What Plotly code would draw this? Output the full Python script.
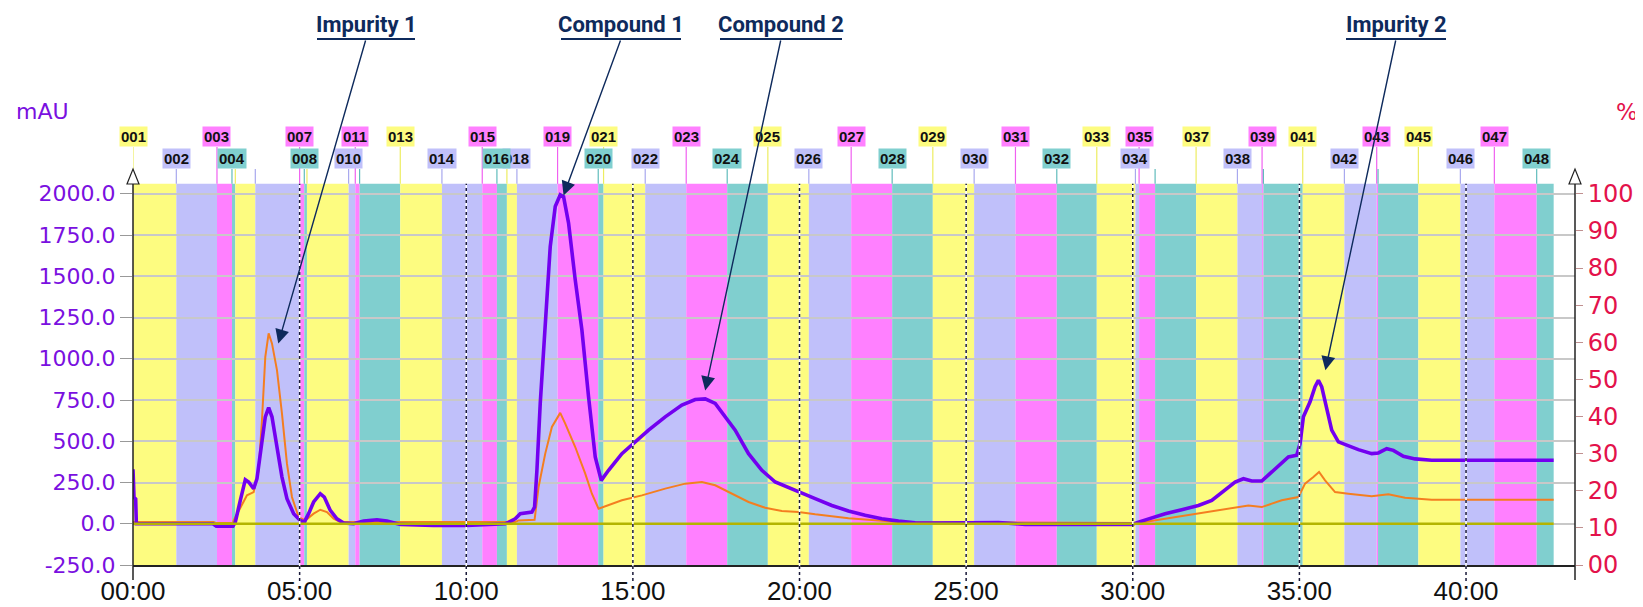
import plotly.graph_objects as go

# ---------------- data ----------------
purple_t = [0.00, 0.03, 0.08, 0.10, 2.40, 2.50, 3.00, 3.07, 3.22, 3.37, 3.47, 3.62, 3.72, 3.82, 3.97, 4.07,
            4.17, 4.32, 4.47, 4.62, 4.82, 5.02, 5.14, 5.27, 5.42, 5.62, 5.74, 5.92, 6.12, 6.32, 6.62, 6.92,
            7.32, 7.62, 8.02, 9.02, 10.02, 11.17, 11.47, 11.62, 11.97, 12.05, 12.12, 12.22, 12.37, 12.52,
            12.67, 12.82, 12.92, 13.07, 13.27, 13.47, 13.67, 13.87, 14.05, 14.27, 14.67, 15.07, 15.47, 15.97,
            16.47, 16.87, 17.17, 17.47, 17.77, 18.07, 18.47, 18.87, 19.27, 19.97, 20.47, 20.97, 21.47, 21.97,
            22.47, 22.97, 23.47, 23.97, 24.47, 25.97, 26.77, 29.97, 30.17, 30.47, 30.97, 31.47, 31.97, 32.37,
            32.77, 33.07, 33.32, 33.57, 33.87, 34.17, 34.47, 34.67, 34.92, 35.02, 35.12, 35.32, 35.47, 35.57,
            35.67, 35.82, 35.97, 36.17, 36.47, 36.77, 37.17, 37.37, 37.62, 37.82, 38.12, 38.47, 38.97, 42.63]
purple_v = [330, 160, 150, 0, 0, -15, -15, 10, 142, 267, 253, 212, 273, 425, 648, 704,
            648, 465, 283, 152, 61, 20, 10, 61, 132, 182, 162, 81, 30, 4, 0, 16,
            24, 16, -4, -10, -10, 0, 30, 61, 71, 101, 324, 729, 1235, 1680,
            1923, 1994, 1983, 1822, 1478, 1174, 769, 405, 263, 324, 425, 496, 567, 648,
            719, 753, 757, 729, 648, 567, 425, 324, 253, 192, 152, 111, 77, 51,
            30, 16, 6, 4, 4, 8, -4, -4, 10, 30, 61, 85, 111, 142,
            202, 253, 273, 259, 259, 314, 374, 405, 415, 486, 648, 739, 830, 870,
            830, 688, 567, 496, 470, 449, 425, 429, 455, 445, 409, 393, 385, 385]

orange_t = [0.00, 2.42, 2.50, 3.00, 3.02, 3.22, 3.42, 3.62, 3.77, 3.87, 3.97, 4.07, 4.17, 4.32, 4.47, 4.62,
            4.77, 4.97, 5.17, 5.42, 5.62, 5.82, 6.02, 6.22, 11.47, 11.57, 12.05, 12.17, 12.37, 12.57, 12.82,
            12.97, 13.27, 13.57, 13.77, 13.97, 14.17, 14.67, 15.27, 15.97, 16.57, 17.07, 17.47, 17.97, 18.47,
            18.97, 19.47, 19.97, 20.47, 21.47, 22.47, 22.97, 30.17, 30.97, 31.97, 32.97, 33.47, 33.87, 34.47,
            34.97, 35.17, 35.42, 35.59, 35.77, 36.07, 36.47, 37.17, 37.67, 38.17, 38.97, 42.63]
orange_v = [10, 10, 4, 4, 20, 101, 172, 192, 324, 627, 1012, 1154, 1093, 931, 668, 364,
            162, 40, 20, 61, 85, 71, 30, 10, 10, 20, 24, 223, 425, 587, 672,
            607, 465, 304, 182, 91, 105, 142, 172, 213, 243, 253, 233, 182, 132,
            97, 77, 71, 57, 34, 16, 10, 4, 30, 61, 97, 111, 101, 142,
            162, 243, 283, 314, 263, 192, 182, 166, 178, 158, 146, 146]

olive_t = [0.00, 42.63]
olive_pct = [11.1, 11.1]

# fractions: start time (min); last value is end of final fraction
frac_names = ["%03d" % i for i in range(1, 49)]
frac_start = [0.00, 1.30, 2.52, 2.97, 3.07, 3.67, 5.00, 5.14, 5.22, 6.47, 6.67, 6.80,
              8.02, 9.27, 10.48, 10.92, 11.22, 11.52, 12.74, 13.96, 14.12, 15.37, 16.60, 17.83,
              19.05, 20.28, 21.55, 22.78, 24.00, 25.24, 26.48, 27.72, 28.92, 30.08, 30.19, 30.67,
              31.90, 33.14, 33.88, 33.92, 35.10, 36.35, 37.32, 37.36, 38.57, 39.83, 40.85, 42.12]
frac_end = 42.63
shown_top = ["001", "003", "007", "011", "013", "015", "019", "021", "023", "025", "027", "029",
             "031", "033", "035", "037", "039", "041", "043", "045", "047"]
shown_bottom = ["002", "004", "008", "010", "014", "016", "018", "020", "022", "024", "026", "028",
                "030", "032", "034", "038", "042", "046", "048"]

x_ticks = [0, 5, 10, 15, 20, 25, 30, 35, 40]
x_ticktext = ["00:00", "05:00", "10:00", "15:00", "20:00", "25:00", "30:00", "35:00", "40:00"]
y_ticks = [-250, 0, 250, 500, 750, 1000, 1250, 1500, 1750, 2000]
y2_ticks = [0, 10, 20, 30, 40, 50, 60, 70, 80, 90, 100]

peak_names = ["Impurity 1", "Compound 1", "Compound 2", "Impurity 2"]
peak_t = [4.36, 12.92, 17.17, 35.78]
peak_v = [1093, 1990, 808, 930]

# ---------------- geometry (screen pixels of the 1643x607 shot) ----------------
SW, SH = 1643, 607
OFF = 8                      # default page body margin
AX_L, AX_R = 133, 1575       # left / right axis x
AX_TOP, AX_BOT = 169, 565    # plot top / bottom y
W, H = SW - OFF, SH - OFF
L, R = AX_L - OFF, SW - AX_R
T, B = AX_TOP - OFF, SH - AX_BOT
PW, PH = AX_R - AX_L, AX_BOT - AX_TOP
XMAX = 43.27
YMIN, YMAX = -250, 2150
BAND_TOP = 2060

label_cx = [366, 621, 781, 1396]
label_half = [49, 60, 61, 50]
UNDER_Y = 39

def px_x(t):
    return AX_L + t / XMAX * PW

def px_y(v):
    return AX_TOP + (YMAX - v) / (YMAX - YMIN) * PH

def paper_x(px):
    return (px - AX_L) / PW

def paper_y(py):
    return (AX_BOT - py) / PH

band_cols = ["#FDFC80", "#C0C0FA", "#FF80FF", "#80CFCF"]
line_cols = ["#EDED60", "#A8A8EE", "#F060F0", "#60BCBC"]

PURPLE = "#7300F0"
ORANGE = "#F47E20"
OLIVE = "#B4B400"
NAVY = "#0E2A5C"
AX_PURPLE = "#7A10E0"
AX_RED = "#E3124B"

fig = go.Figure()

fig.add_trace(go.Scatter(x=olive_t, y=olive_pct, yaxis="y2", mode="lines",
                         line=dict(color=OLIVE, width=2.5), hoverinfo="skip"))
fig.add_trace(go.Scatter(x=orange_t, y=orange_v, mode="lines",
                         line=dict(color=ORANGE, width=2), hoverinfo="skip"))
fig.add_trace(go.Scatter(x=purple_t, y=purple_v, mode="lines",
                         line=dict(color=PURPLE, width=3.6), hoverinfo="skip"))

shapes = []
annotations = []

# fraction bands
starts = frac_start + [frac_end]
for i, name in enumerate(frac_names):
    shapes.append(dict(type="rect", xref="x", yref="y", x0=starts[i], x1=starts[i + 1],
                       y0=YMIN, y1=BAND_TOP, fillcolor=band_cols[i % 4], line=dict(width=0),
                       layer="below"))

band_top_paper = paper_y(px_y(BAND_TOP))
TOP_ROW, BOT_ROW = 137, 159
for i, name in enumerate(frac_names):
    ytop = paper_y(TOP_ROW + 10) if name in shown_top else paper_y(BOT_ROW + 10)
    shapes.append(dict(type="line", xref="x", yref="paper", x0=frac_start[i], x1=frac_start[i],
                       y0=ytop, y1=band_top_paper, line=dict(color=line_cols[i % 4], width=1.2)))
for i in reversed(range(len(frac_names))):
    name = frac_names[i]
    if name in shown_top or name in shown_bottom:
        py = TOP_ROW if name in shown_top else BOT_ROW
        annotations.append(dict(x=frac_start[i], xref="x", y=paper_y(py), yref="paper",
                                text="<b>%s</b>" % name, showarrow=False,
                                font=dict(family="Liberation Sans, Arial", size=15, color="#111111"),
                                bgcolor=band_cols[i % 4], borderpad=1, xanchor="center",
                                yanchor="middle"))

# vertical dotted time lines
for t in x_ticks[1:]:
    for col, dash in (("white", "solid"), ("#1a1a3a", "dot")):
        shapes.append(dict(type="line", xref="x", yref="paper", x0=t, x1=t, y0=paper_y(AX_BOT + 16),
                           y1=band_top_paper, line=dict(color=col, width=1.5, dash=dash)))

# axis lines with arrow heads
for xp in (0.0, 1.0):
    shapes.append(dict(type="line", xref="paper", yref="paper", x0=xp, x1=xp,
                       y0=paper_y(AX_BOT + 15), y1=paper_y(183), line=dict(color="#222222", width=1.5)))
    hw = 6 / PW
    shapes.append(dict(type="path", xref="paper", yref="paper",
                       path="M %f,%f L %f,%f L %f,%f Z" % (xp - hw, paper_y(184), xp + hw, paper_y(184),
                                                          xp, paper_y(169)),
                       fillcolor="white", line=dict(color="#222222", width=1.2)))

# peak annotations
for name, tt, vv, cx, hw in zip(peak_names, peak_t, peak_v, label_cx, label_half):
    shapes.append(dict(type="line", xref="paper", yref="paper", x0=paper_x(cx - hw), x1=paper_x(cx + hw),
                       y0=paper_y(UNDER_Y), y1=paper_y(UNDER_Y), line=dict(color=NAVY, width=1.8)))
    annotations.append(dict(x=paper_x(cx), y=paper_y(UNDER_Y - 1), xref="paper", yref="paper",
                            text="<b>%s</b>" % name, showarrow=False, xanchor="center", yanchor="bottom",
                            borderpad=0,
                            font=dict(family="Roboto, Arial", size=22, color=NAVY)))
    tx, ty = px_x(tt), px_y(vv)
    annotations.append(dict(x=tt, y=vv, xref="x", yref="y", text="", showarrow=True,
                            ax=cx - tx, ay=UNDER_Y - ty, axref="pixel", ayref="pixel",
                            arrowhead=2, arrowsize=2.0, arrowwidth=1.4, arrowcolor=NAVY, standoff=0))

annotations.append(dict(x=paper_x(42), y=paper_y(112), xref="paper", yref="paper", text="mAU",
                        showarrow=False, xanchor="center", yanchor="middle",
                        font=dict(family="DejaVu Sans", size=22, color=AX_PURPLE)))
annotations.append(dict(x=paper_x(1627), y=paper_y(112), xref="paper", yref="paper", text="%",
                        showarrow=False, xanchor="center", yanchor="middle",
                        font=dict(family="DejaVu Sans", size=23, color=AX_RED)))

fig.update_layout(
    template="none",
    width=W, height=H, autosize=False,
    margin=dict(l=L, r=R, t=T, b=B, pad=0, autoexpand=False),
    paper_bgcolor="white", plot_bgcolor="white",
    showlegend=False,
    xaxis=dict(range=[0, XMAX], tickvals=x_ticks, ticktext=x_ticktext, showgrid=False, zeroline=False,
               showline=True, linecolor="#222222", linewidth=1.5, ticks="", ticklabelstandoff=2,
               automargin=False,
               tickfont=dict(family="Liberation Sans, Arial", size=26, color="#111111")),
    yaxis=dict(range=[YMIN, YMAX], tickvals=y_ticks, ticktext=["%.1f" % v for v in y_ticks],
               showgrid=True, gridcolor="#C8C8C8", gridwidth=1.5, zeroline=False, showline=False,
               ticks="outside", ticklen=12, tickcolor="#999999", tickwidth=1.2, automargin=False,
               tickfont=dict(family="DejaVu Sans", size=22, color=AX_PURPLE)),
    yaxis2=dict(range=[0, (YMAX - YMIN) / 2250 * 100], overlaying="y", side="right",
                tickvals=y2_ticks, ticktext=["%02d" % v for v in y2_ticks], showgrid=False,
                zeroline=False, showline=False, ticks="outside", ticklen=7, tickcolor="#C09090",
                automargin=False,
                tickfont=dict(family="DejaVu Sans", size=24, color=AX_RED)),
    shapes=shapes,
    annotations=annotations,
)

fig.write_html("out.html")
